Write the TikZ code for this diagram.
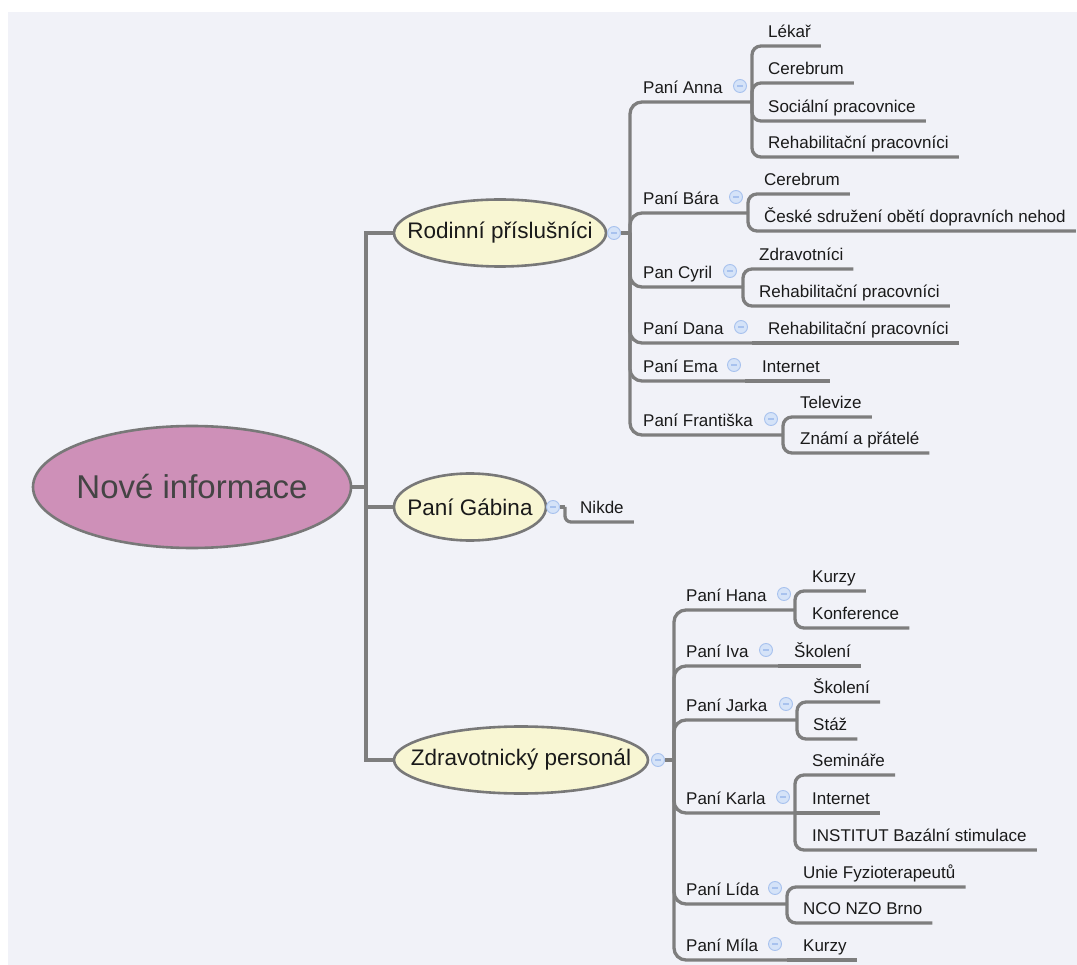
\documentclass[tikz,border=0pt]{standalone}
\usepackage{fontspec}
\setmainfont{Liberation Sans}
\usetikzlibrary{shapes.geometric}

\definecolor{canvas}{HTML}{F1F2F8}
\definecolor{linegray}{HTML}{7E7E7E}
\definecolor{rimgray}{HTML}{787878}
\definecolor{topicfill}{HTML}{F8F6D3}
\definecolor{rootfill}{HTML}{CE90B8}
\definecolor{iconfill}{HTML}{D5E3F8}
\definecolor{iconrim}{HTML}{A8C2EE}
\definecolor{inkdark}{HTML}{1A1A1A}
\definecolor{rootink}{HTML}{444444}

\pgfdeclarelayer{canvaslayer}
\pgfdeclarelayer{linklayer}
\pgfsetlayers{canvaslayer,linklayer,main}

\tikzset{
  wire/.style={draw=linegray, line width=3.3pt},
  elbow/.style={wire, rounded corners=#1},
  elbow/.default=10pt,
  rootnode/.style={ellipse, draw=rimgray, line width=2.6pt, fill=rootfill,
    text=rootink, font=\fontsize{33}{38}\selectfont, inner sep=0pt},
  topicnode/.style={ellipse, draw=rimgray, line width=2.6pt, fill=topicfill,
    text=inkdark, font=\fontsize{22.5}{26}\selectfont, inner sep=0pt,
    minimum height=67pt},
  subnode/.style={anchor=south west, inner xsep=10pt, inner ysep=0pt,
    text depth=8pt, text=inkdark, font=\fontsize{17}{20}\selectfont},
  foldmark/.style={circle, draw=iconrim, fill=iconfill, line width=0.9pt,
    minimum size=13pt, inner sep=0pt,
    path picture={\draw[iconrim, line width=1.1pt]
      ([xshift=-3pt]path picture bounding box.center) --
      ([xshift=3pt]path picture bounding box.center);}},
}

\begin{document}
\begin{tikzpicture}[x=1pt, y=-1pt]
\useasboundingbox (0,0) rectangle (1077,965);
\begin{pgfonlayer}{canvaslayer}
  \fill[white] (0,0) rectangle (1077,965);
  \fill[canvas] (8,12) rectangle (1077,965);
\end{pgfonlayer}

% central topic and main branches
\node[rootnode, minimum width=318pt, minimum height=122pt] (root) at (192,487) {\makebox[0pt]{Nové informace}};
\node[topicnode, minimum width=212pt] (rodinni) at (500,233) {\makebox[0pt]{Rodinní příslušníci}};
\node[topicnode, minimum width=152pt] (gabina) at (470,507) {\makebox[0pt]{Paní Gábina}};
\node[topicnode, minimum width=254pt] (zdrav) at (521,760) {\makebox[0pt]{Zdravotnický personál}};
\node[foldmark] (f-rodinni) at (614,233) {};
\node[foldmark] (f-gabina) at (553,507) {};
\node[foldmark] (f-zdrav) at (658,760) {};

\coordinate (hub) at (366,487);
\coordinate (j-rodinni) at (630,233);
\coordinate (j-gabina) at (565,507);
\coordinate (j-zdrav) at (674,760);

% family members
\node[subnode] (anna) at (633,102) {Paní Anna};
\node[subnode] (bara) at (633,213) {Paní Bára};
\node[subnode] (cyril) at (633,287) {Pan Cyril};
\node[subnode] (dana) at (633,343) {Paní Dana};
\node[subnode] (ema) at (633,381) {Paní Ema};
\node[subnode] (frantiska) at (633,435) {Paní Františka};
\node[foldmark] (f-anna) at (740,86) {};
\node[foldmark] (f-bara) at (736,197) {};
\node[foldmark] (f-cyril) at (730,271) {};
\node[foldmark] (f-dana) at (741,327) {};
\node[foldmark] (f-ema) at (734,365) {};
\node[foldmark] (f-frantiska) at (771,419) {};
\coordinate (j-anna) at (752,102);
\coordinate (j-bara) at (748,213);
\coordinate (j-cyril) at (743,287);
\coordinate (j-dana) at (752,343);
\coordinate (j-ema) at (745,381);
\coordinate (j-frantiska) at (783,435);

\node[subnode] (lekar) at (758,46) {Lékař};
\node[subnode] (cerebrumA) at (758,83) {Cerebrum};
\node[subnode] (socialni) at (758,121) {Sociální pracovnice};
\node[subnode] (rehabA) at (758,157) {Rehabilitační pracovníci};
\node[subnode] (cerebrumB) at (754,194) {Cerebrum};
\node[subnode] (ceske) at (754,231) {České sdružení obětí dopravních nehod};
\node[subnode] (zdravotnici) at (749,269) {Zdravotníci};
\node[subnode] (rehabC) at (749,306) {Rehabilitační pracovníci};
\node[subnode] (rehabD) at (758,343) {Rehabilitační pracovníci};
\node[subnode] (internetE) at (752,381) {Internet};
\node[subnode] (televize) at (790,417) {Televize};
\node[subnode] (znami) at (790,453) {Známí a přátelé};

% Gábina
\node[subnode] (nikde) at (570,522) {Nikde};

% medical staff
\node[subnode] (hana) at (676,610) {Paní Hana};
\node[subnode] (iva) at (676,666) {Paní Iva};
\node[subnode] (jarka) at (676,720) {Paní Jarka};
\node[subnode] (karla) at (676,813) {Paní Karla};
\node[subnode] (lida) at (676,904) {Paní Lída};
\node[subnode] (mila) at (676,960) {Paní Míla};
\node[foldmark] (f-hana) at (784,594) {};
\node[foldmark] (f-iva) at (766,650) {};
\node[foldmark] (f-jarka) at (786,704) {};
\node[foldmark] (f-karla) at (783,797) {};
\node[foldmark] (f-lida) at (775,888) {};
\node[foldmark] (f-mila) at (775,944) {};
\coordinate (j-hana) at (795,610);
\coordinate (j-iva) at (778,666);
\coordinate (j-jarka) at (797,720);
\coordinate (j-karla) at (795,813);
\coordinate (j-lida) at (787,904);
\coordinate (j-mila) at (787,960);

\node[subnode] (kurzyH) at (802,591) {Kurzy};
\node[subnode] (konference) at (802,628) {Konference};
\node[subnode] (skoleniI) at (784,666) {Školení};
\node[subnode] (skoleniJ) at (803,702) {Školení};
\node[subnode] (staz) at (803,739) {Stáž};
\node[subnode] (seminare) at (802,775) {Semináře};
\node[subnode] (internetK) at (802,813) {Internet};
\node[subnode] (institut) at (802,850) {INSTITUT Bazální stimulace};
\node[subnode] (unie) at (793,887) {Unie Fyzioterapeutů};
\node[subnode] (nco) at (793,923) {NCO NZO Brno};
\node[subnode] (kurzyM) at (793,960) {Kurzy};

\begin{pgfonlayer}{linklayer}
  % main trunk
  \draw[wire] (root.east) -- (hub);
  \draw[wire] (rodinni.west) -| (hub) |- (zdrav.west);
  \draw[wire] (hub |- gabina.west) -- (gabina.west);

  % family branch
  \draw[wire] (f-rodinni.east) -- (j-rodinni);
  \foreach \k in {anna,bara,cyril,dana,ema,frantiska}
    \draw[elbow=12pt] (j-rodinni) |- (j-\k);
  \foreach \k in {lekar,cerebrumA,socialni,rehabA}
    \draw[elbow=9pt] (j-anna) |- (\k.south east);
  \foreach \k in {cerebrumB,ceske}
    \draw[elbow=9pt] (j-bara) |- (\k.south east);
  \foreach \k in {zdravotnici,rehabC}
    \draw[elbow=9pt] (j-cyril) |- (\k.south east);
  \draw[wire] (j-dana) -- (rehabD.south east);
  \draw[wire] (j-ema) -- (internetE.south east);
  \foreach \k in {televize,znami}
    \draw[elbow=9pt] (j-frantiska) |- (\k.south east);

  % Gábina branch
  \draw[wire] (f-gabina.east) -- (j-gabina);
  \draw[elbow=6pt] (j-gabina) |- (nikde.south east);

  % medical staff branch
  \draw[wire] (f-zdrav.east) -- (j-zdrav);
  \foreach \k in {hana,iva,jarka,karla,lida,mila}
    \draw[elbow=12pt] (j-zdrav) |- (j-\k);
  \foreach \k in {kurzyH,konference}
    \draw[elbow=9pt] (j-hana) |- (\k.south east);
  \draw[wire] (j-iva) -- (skoleniI.south east);
  \foreach \k in {skoleniJ,staz}
    \draw[elbow=9pt] (j-jarka) |- (\k.south east);
  \foreach \k in {seminare,institut}
    \draw[elbow=9pt] (j-karla) |- (\k.south east);
  \draw[wire] (j-karla) -- (internetK.south east);
  \foreach \k in {unie,nco}
    \draw[elbow=9pt] (j-lida) |- (\k.south east);
  \draw[wire] (j-mila) -- (kurzyM.south east);
\end{pgfonlayer}
\end{tikzpicture}
\end{document}
